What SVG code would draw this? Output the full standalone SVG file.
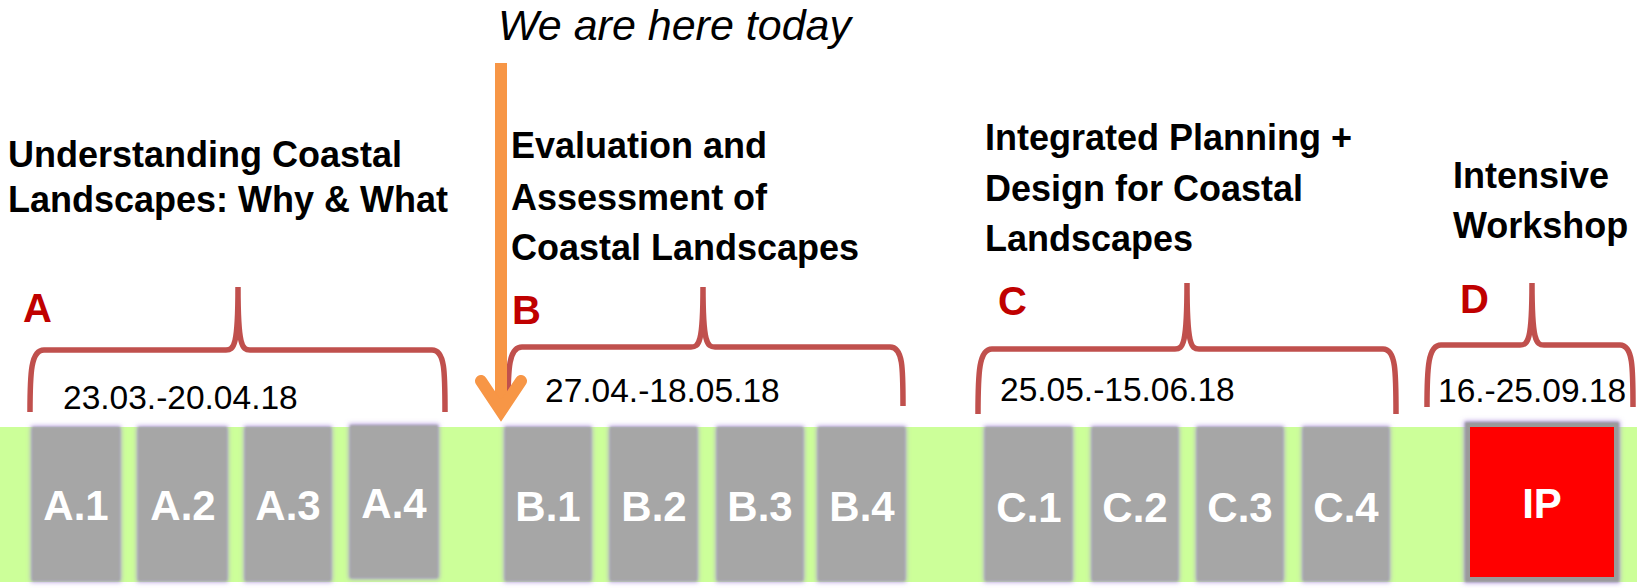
<svg xmlns="http://www.w3.org/2000/svg" width="1637" height="588" viewBox="0 0 1637 588">
<style>
.title{font-family:"Liberation Sans",Arial,sans-serif;font-weight:bold;font-size:36px;fill:#000}
.letter{font-family:"Liberation Sans",Arial,sans-serif;font-weight:bold;font-size:40px;fill:#C00000}
.date{font-family:"Liberation Sans",Arial,sans-serif;font-size:33.5px;fill:#000}
.lbl{font-family:"Liberation Sans",Arial,sans-serif;font-weight:bold;font-size:42px;fill:#fff;text-anchor:middle}
.box{fill:#A6A6A6;filter:url(#glow)}
.brace{fill:none;stroke:#C0504D;stroke-width:5.5}
.note{font-family:"Liberation Sans",Arial,sans-serif;font-style:italic;font-size:43px;fill:#000}
</style>
<defs>
<filter id="glow" x="-20%" y="-20%" width="140%" height="140%">
<feMorphology in="SourceAlpha" operator="dilate" radius="1" result="d"/>
<feGaussianBlur in="d" stdDeviation="2.5" result="b"/>
<feFlood flood-color="#A88ADB" flood-opacity="0.85"/>
<feComposite in2="b" operator="in" result="g"/>
<feGaussianBlur in="SourceGraphic" stdDeviation="1" result="s"/>
<feMerge><feMergeNode in="g"/><feMergeNode in="s"/></feMerge>
</filter>
</defs>
<rect width="1637" height="588" fill="#fff"/>
<rect id="band" x="0" y="427" width="1637" height="155" fill="#CCFF99"/>

<g id="titles">
<text class="note" x="498" y="40">We are here today</text>
<text class="title" x="8" y="167">Understanding Coastal</text>
<text class="title" x="8" y="212">Landscapes: Why &amp; What</text>
<text class="title" x="511" y="158">Evaluation and</text>
<text class="title" x="511" y="210">Assessment of</text>
<text class="title" x="511" y="260">Coastal Landscapes</text>
<text class="title" x="985" y="150">Integrated Planning +</text>
<text class="title" x="985" y="201">Design for Coastal</text>
<text class="title" x="985" y="251">Landscapes</text>
<text class="title" x="1453" y="188">Intensive</text>
<text class="title" x="1453" y="238">Workshop</text>
</g>

<g id="phaseA">
<text class="letter" x="23" y="322">A</text>
<path class="brace" d="M30,412 C30,372 31,350 44,350 L226,350 C234,350 238,346 238,287 C238,346 242,350 250,350 L432,350 C445,350 445,372 445,412"/>
<text class="date" x="63" y="409">23.03.-20.04.18</text>
</g>
<g id="phaseB">
<text class="letter" x="512" y="324">B</text>
<path class="brace" d="M508,406 C508,368 509,347 522,347 L691,347 C699,347 703,343 703,287 C703,343 707,347 715,347 L890,347 C903,347 903,368 903,406"/>
<text class="date" x="545" y="402">27.04.-18.05.18</text>
</g>
<g id="phaseC">
<text class="letter" x="998" y="315">C</text>
<path class="brace" d="M978,414 C978,372 979,349 992,349 L1175,349 C1183,349 1187,345 1187,283 C1187,345 1191,349 1199,349 L1383,349 C1396,349 1396,372 1396,414"/>
<text class="date" x="1000" y="401">25.05.-15.06.18</text>
</g>
<g id="phaseD">
<text class="letter" x="1460" y="313">D</text>
<path class="brace" d="M1427,407 C1427,368 1428,345 1441,345 L1520,345 C1528,345 1532,341 1532,283 C1532,341 1536,345 1544,345 L1620,345 C1633,345 1633,368 1633,407"/>
<text class="date" x="1438" y="402">16.-25.09.18</text>
</g>

<g id="A1"><rect class="box" x="32" y="427" width="88" height="154"/><text class="lbl" x="76" y="520">A.1</text></g>
<g id="A2"><rect class="box" x="138" y="427" width="89" height="154"/><text class="lbl" x="183" y="520">A.2</text></g>
<g id="A3"><rect class="box" x="245" y="427" width="86" height="154"/><text class="lbl" x="288" y="520">A.3</text></g>
<g id="A4"><rect class="box" x="350" y="425" width="88" height="153"/><text class="lbl" x="394" y="518">A.4</text></g>

<g id="B1"><rect class="box" x="505" y="427" width="86" height="154"/><text class="lbl" x="548" y="521">B.1</text></g>
<g id="B2"><rect class="box" x="610" y="427" width="87" height="154"/><text class="lbl" x="654" y="521">B.2</text></g>
<g id="B3"><rect class="box" x="717" y="427" width="86" height="154"/><text class="lbl" x="760" y="521">B.3</text></g>
<g id="B4"><rect class="box" x="818" y="427" width="87" height="154"/><text class="lbl" x="862" y="521">B.4</text></g>

<g id="C1"><rect class="box" x="985" y="427" width="87" height="154"/><text class="lbl" x="1029" y="522">C.1</text></g>
<g id="C2"><rect class="box" x="1092" y="427" width="86" height="154"/><text class="lbl" x="1135" y="522">C.2</text></g>
<g id="C3"><rect class="box" x="1197" y="427" width="86" height="154"/><text class="lbl" x="1240" y="522">C.3</text></g>
<g id="C4"><rect class="box" x="1303" y="427" width="86" height="154"/><text class="lbl" x="1346" y="522">C.4</text></g>

<g id="IP">
<rect x="1465" y="422" width="154" height="160" fill="#9A9A9A" filter="url(#glow)"/>
<rect x="1470" y="427" width="144" height="150" fill="#FF0000"/>
<text class="lbl" x="1542" y="518">IP</text>
</g>

<g id="connectors">
<line x1="501" y1="63" x2="501" y2="410" stroke="#F79646" stroke-width="12"/>
<polyline points="481,381 501,411 521,381" fill="none" stroke="#F79646" stroke-width="12" stroke-linecap="round" stroke-linejoin="miter"/>
</g>
</svg>
